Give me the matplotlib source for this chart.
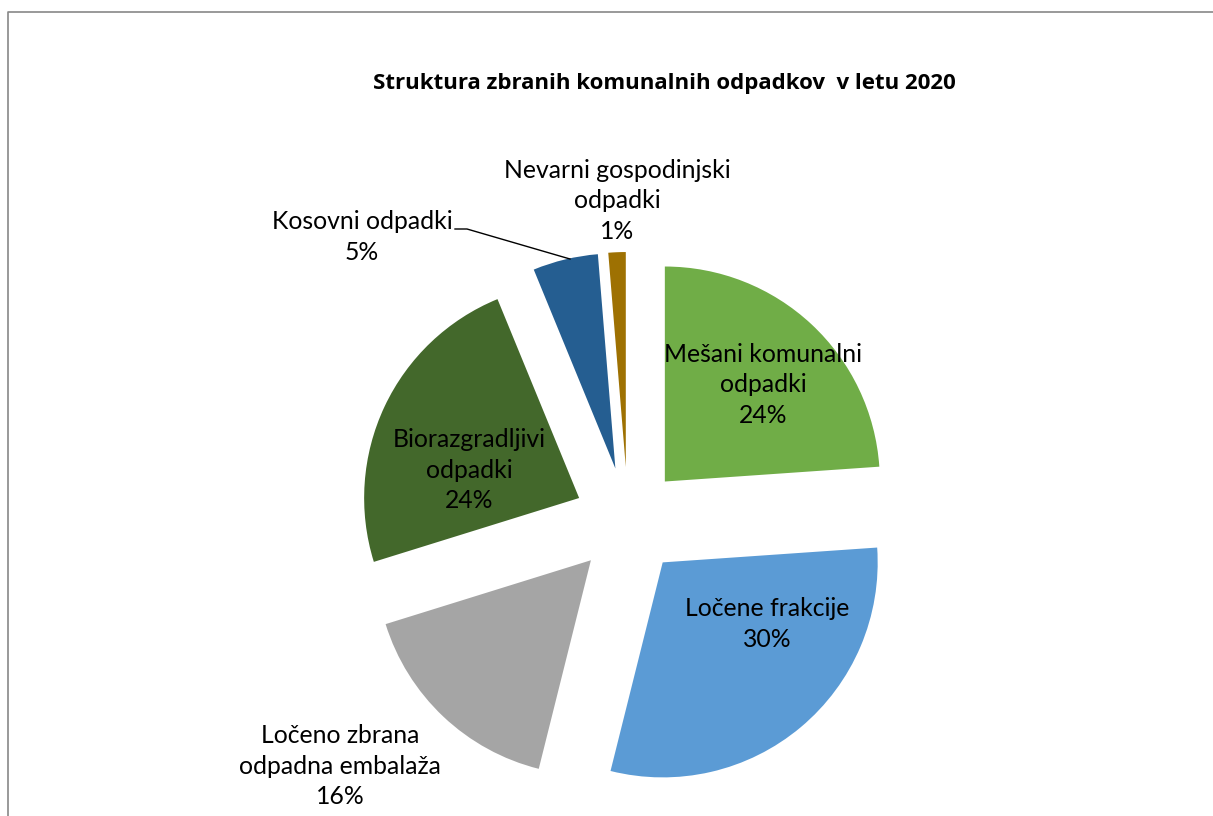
import matplotlib
matplotlib.use("Agg")
import matplotlib.pyplot as plt

plt.rcParams["font.family"] = ["Lato", "DejaVu Sans"]

title = "Struktura zbranih komunalnih odpadkov  v letu 2020"
categories = ["Mešani komunalni odpadki", "Ločene frakcije", "Ločeno zbrana odpadna embalaža",
              "Biorazgradljivi odpadki", "Kosovni odpadki", "Nevarni gospodinjski odpadki"]
shares = [23.9, 30.0, 16.3, 23.6, 4.9, 1.3]
colors = ["#70AD47", "#5B9BD5", "#A5A5A5", "#43682B", "#255E91", "#9E7102"]

# label text lines (how the chart wraps them) and their pixel anchor
label_lines = ["Mešani komunalni\nodpadki", "Ločene frakcije", "Ločeno zbrana\nodpadna embalaža",
               "Biorazgradljivi\nodpadki", "Kosovni odpadki", "Nevarni gospodinjski\nodpadki"]
label_pos = [(763, 385), (767, 624), (340, 766), (469, 470), (362, 237), (617, 201)]

W, H = 1213, 816
fig = plt.figure(figsize=(W / 100, H / 100), dpi=100)
ax = fig.add_axes([0, 0, 1, 1])

# pie in pixel-like data coords (y up)
cx, cy, r = 628, H - 521, 215
ax.pie(shares, colors=colors, startangle=90, counterclock=False,
       center=(cx, cy), radius=r, explode=[54] * len(shares),
       wedgeprops=dict(linewidth=0), frame=True)
ax.set_xlim(0, W)
ax.set_ylim(0, H)
ax.set_aspect("equal", adjustable="box")
ax.axis("off")

for lines, share, (px, py) in zip(label_lines, shares, label_pos):
    ax.text(px, H - py, "%s\n%.0f%%" % (lines, share), ha="center", va="center",
            fontsize=17.8, linespacing=1.4, color="black")

# leader line for Kosovni odpadki
ax.plot([455, 467, 570], [H - 229, H - 229, H - 259], color="black", linewidth=1)

ax.text(664, H - 83, title, ha="center", va="center", fontsize=16, fontweight="bold",
        family=["Open Sans", "DejaVu Sans"])

# chart border
ax.plot([8, 8, W + 5], [-5, H - 12, H - 12], color="#888888", linewidth=1.2, clip_on=False)

fig.savefig("out.png", dpi=100)
